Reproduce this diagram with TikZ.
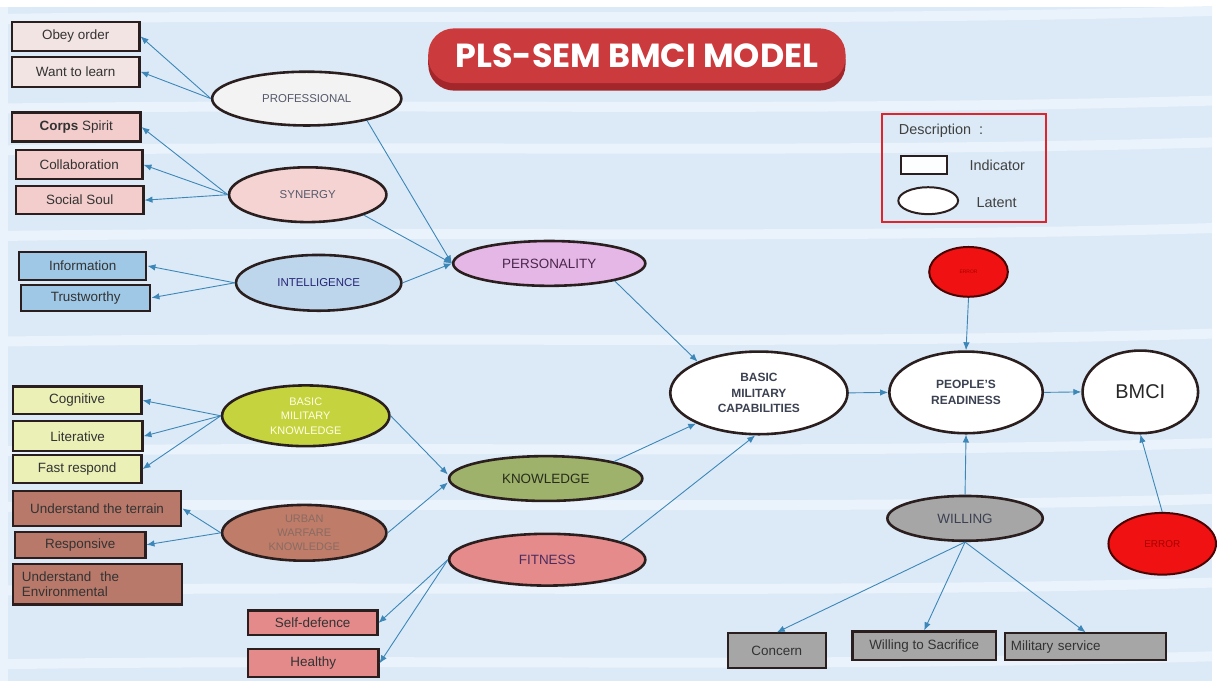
\documentclass[tikz,border=0pt]{standalone}
\usepackage{fontspec}
\setmainfont{Liberation Sans}
\newfontfamily\titlefont{Poppins}
\usetikzlibrary{shapes.geometric,arrows.meta}

\definecolor{bgblue}{HTML}{DCEAF7}
\definecolor{stripeblue}{HTML}{EAF3FB}
\definecolor{nodeline}{HTML}{2B1E1E}
\definecolor{arrowblue}{HTML}{3C87B8}
\definecolor{titlered}{HTML}{CB3B3D}
\definecolor{titledark}{HTML}{A3262A}
\definecolor{legendred}{HTML}{E0242C}
\definecolor{profbox}{HTML}{F2E4E2}
\definecolor{synbox}{HTML}{F2CDCB}
\definecolor{intelbox}{HTML}{9FC8E6}
\definecolor{bmkbox}{HTML}{EBF0B6}
\definecolor{uwkbox}{HTML}{B9796A}
\definecolor{fitbox}{HTML}{E48A8A}
\definecolor{willbox}{HTML}{A6A6A6}
\definecolor{proflat}{HTML}{F3F3F3}
\definecolor{synlat}{HTML}{F5D3D3}
\definecolor{intellat}{HTML}{BED6EC}
\definecolor{perslat}{HTML}{E5B7E7}
\definecolor{bmklat}{HTML}{C5D43E}
\definecolor{uwklat}{HTML}{BF7C69}
\definecolor{knowlat}{HTML}{9EB26B}
\definecolor{fitlat}{HTML}{E68B8B}
\definecolor{errred}{HTML}{F01212}
\definecolor{lattext}{HTML}{55596A}
\definecolor{coretext}{HTML}{3B4150}

\begin{document}
\begin{tikzpicture}[x=1pt,y=-1pt,
  ind/.style={draw=nodeline,line width=2.2pt,minimum height=28pt,inner sep=2pt,
    font=\fontsize{13.5}{15}\selectfont,text=black!80},
  lat/.style={ellipse,draw=nodeline,line width=2.6pt,inner sep=0pt,align=center,
    text=lattext,font=\fontsize{11.5}{14.5}\selectfont},
  big/.style={lat,font=\fontsize{13.5}{16}\selectfont},
  core/.style={lat,fill=white,font=\bfseries\fontsize{12}{16}\selectfont,text=coretext},
  err/.style={lat,fill=errred,line width=2pt,draw=black!70!red,text=black!35!red},
  link/.style={draw=arrowblue,line width=0.9pt,-{Latex[length=8pt,width=6.5pt]}}
]
% The background
\fill[bgblue] (0,0) rectangle (1217,684);
\fill[white] (0,0) rectangle (1217,7);
\fill[stripeblue] (0,7) rectangle (8,684);
\foreach \y in {14,104,146,232,338,448,504,588,662}
{
  \fill[stripeblue] (0,\y) .. controls (400,\y-6) and (800,\y+4) .. (1217,\y-8)
    -- (1217,\y+2) .. controls (800,\y+14) and (400,\y+4) .. (0,\y+10) -- cycle;
}

% The title
\fill[titledark,rounded corners=26pt] (430,34) rectangle (849,91);
\node[fill=titlered,rounded corners=26pt,minimum width=419pt,minimum height=55pt,
  text=white,font=\titlefont\bfseries\fontsize{33.5}{36}\selectfont] (title) at (639.5,56) {PLS-SEM BMCI MODEL};

% The legend
\node[draw=legendred,line width=2pt,minimum width=164pt,minimum height=109pt] (legend) at (968,168.5) {};
\node[anchor=west,font=\fontsize{14.5}{16}\selectfont,text=black!75] (desc) at (899,131) {Description\ \ :};
\node[draw=nodeline,line width=2pt,fill=white!95!bgblue,minimum width=46pt,minimum height=18pt] (legind) at (928,166) {};
\node[anchor=west,font=\fontsize{14.5}{16}\selectfont,text=black!75] (indtext) at (970,166) {Indicator};
\node[ellipse,draw=nodeline,line width=2pt,fill=white,minimum width=60pt,minimum height=27pt] (leglat) at (932,201.5) {};
\node[anchor=west,font=\fontsize{14.5}{16}\selectfont,text=black!75] (lattext) at (977,203) {Latent};

% The indicators
\node[ind,fill=profbox,minimum width=128pt,minimum height=29pt] (obey) at (76,36.5) {Obey order};
\node[ind,fill=profbox,minimum width=128pt,minimum height=30pt] (learn) at (76,72) {Want to learn};
\node[ind,fill=synbox,minimum width=129pt,minimum height=29pt] (corps) at (76.5,127.5) {\textbf{Corps} Spirit};
\node[ind,fill=synbox,minimum width=127pt,minimum height=29pt] (collab) at (79.5,165.5) {Collaboration};
\node[ind,fill=synbox,minimum width=128pt] (social) at (80,201) {Social Soul};
\node[ind,fill=intelbox,minimum width=128pt] (info) at (83,267) {Information};
\node[ind,fill=intelbox,minimum width=130pt,minimum height=26pt] (trust) at (86,299) {Trustworthy};
\node[ind,fill=bmkbox,minimum width=129pt] (cogn) at (77.5,402) {Cognitive};
\node[ind,fill=bmkbox,minimum width=130pt,minimum height=30pt] (liter) at (78,438) {Literative};
\node[ind,fill=bmkbox,minimum width=129pt] (fast) at (77.5,471) {Fast respond};
\node[ind,fill=uwkbox,minimum width=169pt,minimum height=35pt] (terrain) at (97.5,510.5) {Understand the terrain};
\node[ind,fill=uwkbox,minimum width=131pt,minimum height=26pt] (resp) at (80.5,547) {Responsive};
\node[ind,fill=uwkbox,minimum width=170pt,minimum height=41pt,text width=152pt,align=left,
  font=\fontsize{13.5}{15.5}\selectfont] (envir) at (98,586.5) {Understand\ \ the\\Environmental};
\node[ind,fill=fitbox,minimum width=130pt,minimum height=25pt] (selfdef) at (314,625.5) {Self-defence};
\node[ind,fill=fitbox,minimum width=131pt] (healthy) at (314.5,666) {Healthy};
\node[ind,fill=willbox,minimum width=98pt,minimum height=35pt] (concern) at (780,653.5) {Concern};
\node[ind,fill=willbox,minimum width=144pt,minimum height=29pt] (sacrifice) at (928,648.5) {Willing to Sacrifice};
\node[ind,fill=willbox,minimum width=162pt,minimum height=27pt,text width=150pt,align=left] (service) at (1090,649.5) {Military service};

% The latent variables
\node[lat,fill=proflat,minimum width=190pt,minimum height=54pt] (prof) at (308,99) {PROFESSIONAL};
\node[lat,fill=synlat,minimum width=158pt,minimum height=55pt] (syn) at (309,195.5) {SYNERGY};
\node[lat,fill=intellat,minimum width=166pt,minimum height=56pt,text=black!55!blue!70!gray] (intel) at (320,284) {INTELLIGENCE};
\node[big,fill=perslat,minimum width=193pt,minimum height=45pt,text=black!60!violet!70!gray] (pers) at (551.5,264.5) {PERSONALITY};
\node[lat,fill=bmklat,minimum width=168pt,minimum height=61pt,text=white!90!yellow,
  font=\fontsize{11}{14.5}\selectfont] (bmk) at (307,417.5) {BASIC\\MILITARY\\KNOWLEDGE};
\node[lat,fill=uwklat,minimum width=165pt,minimum height=56pt,text=black!25!uwklat!60!gray,
  font=\fontsize{11}{14.5}\selectfont] (uwk) at (305.5,535) {URBAN\\WARFARE\\KNOWLEDGE};
\node[big,fill=knowlat,minimum width=194pt,minimum height=45pt,text=black!75!knowlat] (know) at (548,480.5) {KNOWLEDGE};
\node[big,fill=fitlat,minimum width=197pt,minimum height=52pt,text=black!60!fitlat!80!blue] (fit) at (549.5,562) {FITNESS};
\node[core,minimum width=178pt,minimum height=83pt] (bmc) at (762,394.5) {BASIC\\MILITARY\\CAPABILITIES};
\node[core,minimum width=154pt,minimum height=82pt] (ready) at (970,394) {PEOPLE'S\\READINESS};
\node[lat,fill=white,minimum width=116pt,minimum height=83pt,text=black!85,
  font=\fontsize{20}{22}\selectfont] (bmci) at (1145,393.5) {BMCI};
\node[big,fill=willbox,minimum width=156pt,minimum height=45pt,text=coretext] (will) at (969,520.5) {WILLING};
\node[err,minimum width=79pt,minimum height=50pt,font=\fontsize{5}{6}\selectfont] (errtop) at (972.5,273) {ERROR};
\node[err,minimum width=108pt,minimum height=62pt,font=\fontsize{10}{12}\selectfont] (errbot) at (1167,546) {ERROR};

% Latent to indicator
\draw[link] (prof.west) -- (obey.east);
\draw[link] (prof.west) -- (learn.east);
\draw[link] (syn.west) -- (corps.east);
\draw[link] (syn.west) -- (collab.east);
\draw[link] (syn.west) -- (social.east);
\draw[link] (intel.west) -- (info.east);
\draw[link] (intel.west) -- (trust.east);
\draw[link] (bmk.west) -- (cogn.east);
\draw[link] (bmk.west) -- (liter.east);
\draw[link] (bmk.west) -- (fast.east);
\draw[link] (uwk.west) -- (terrain.east);
\draw[link] (uwk.west) -- (resp.east);
\draw[link] (fit.west) -- (selfdef.east);
\draw[link] (fit.west) -- (healthy.east);
\draw[link] (will.south) -- (concern.north);
\draw[link] (will.south) -- (sacrifice.north);
\draw[link] (will.south) -- (service.north);

% Inner model
\draw[link] (prof.-20) -- (pers.west);
\draw[link] (syn.-20) -- (pers.west);
\draw[link] (intel.east) -- (pers.west);
\draw[link] (bmk.east) -- ([yshift=4pt]know.west);
\draw[link] (uwk.east) -- ([yshift=-4pt]know.west);
\draw[link] (pers.-15) -- (bmc.153);
\draw[link] (know.14) -- (bmc.-154);
\draw[link] (fit.14) -- (bmc.-95);
\draw[link] (bmc.east) -- (ready.west);
\draw[link] (ready.east) -- (bmci.west);
\draw[link] (errtop.south) -- (ready.north);
\draw[link] (will.north) -- (ready.south);
\draw[link] (errbot.north) -- (bmci.south);
\end{tikzpicture}
\end{document}
